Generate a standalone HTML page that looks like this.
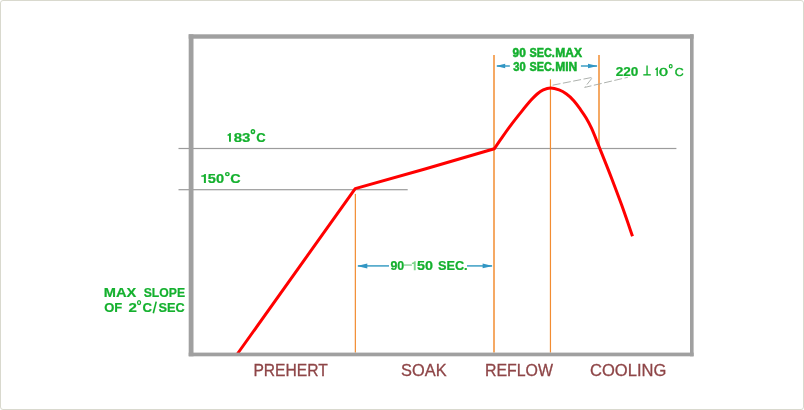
<!DOCTYPE html>
<html>
<head>
<meta charset="utf-8">
<title>Reflow Profile</title>
<style>
html,body{margin:0;padding:0;background:#fff;}
body{width:804px;height:410px;overflow:hidden;position:relative;font-family:"Liberation Sans",sans-serif;}
#card{position:absolute;left:0;top:0;width:802px;height:408px;border:1px solid #d9d9ce;border-radius:3px;background:#fff;}
#plot{position:absolute;left:0;top:0;width:804px;height:410px;will-change:transform;}
text{font-family:"Liberation Sans",sans-serif;}
.g{fill:#14b02e;stroke:#14b02e;stroke-width:0.4;}
.gb{fill:#14b02e;font-weight:bold;stroke:#14b02e;stroke-width:0.2;}
.gh{fill:#14b02e;font-weight:bold;stroke:#14b02e;stroke-width:0.5;}
.b{fill:#8e4547;stroke:#8e4547;stroke-width:0.3;}
</style>
</head>
<body>
<div id="card"></div>
<svg id="plot" width="804" height="410" viewBox="0 0 804 410" role="img">
  <desc>Reflow temperature profile: 183°C, 150°C, MAX. SLOPE OF 2°C/SEC, 90 SEC.MAX, 30 SEC.MIN, 220 ± 10°C, 90~150 SEC., PREHERT, SOAK, REFLOW, COOLING</desc>
  <!-- horizontal reference lines -->
  <rect x="178.5" y="147.9" width="497.9" height="1.2" fill="#9c9c9c"/>
  <rect x="178.5" y="189.1" width="229.2" height="1.2" fill="#9c9c9c"/>

  <!-- orange verticals -->
  <rect x="354.75" y="193.9" width="1.2" height="158.7" fill="#f28c32"/>
  <rect x="493.2" y="55" width="1.6" height="297.6" fill="#f3953f"/>
  <rect x="549.85" y="79.3" width="1.2" height="273.3" fill="#f28c32"/>
  <rect x="598.2" y="55" width="1.6" height="90" fill="#f3953f"/>

  <!-- leader zigzag -->
  <polyline points="552.6,85.2 592.6,77.3 584.7,87.4 627.8,77.3" fill="none" stroke="#a4a8a4" stroke-width="0.9" stroke-dasharray="8 2.5"/>

  <!-- blue arrows -->
  <g stroke="#48a4c8" stroke-width="1.6" fill="#3196c4">
    <line x1="358" y1="265.9" x2="389" y2="265.9"/>
    <polygon points="356.9,265.9 367.3,263.4 367.3,268.4" stroke="none"/>
    <line x1="467" y1="265.9" x2="492" y2="265.9"/>
    <polygon points="492.8,265.9 482.6,263.5 482.6,268.3" stroke="none"/>
    <line x1="497" y1="66" x2="509.9" y2="66"/>
    <polygon points="495.8,66 505.2,63.7 505.2,68.3" stroke="none"/>
    <line x1="580.9" y1="66" x2="597" y2="66"/>
    <polygon points="597.7,66 588,63.8 588,68.2" stroke="none"/>
  </g>

  <!-- red profile -->
  <path d="M237.3,354 L355.2,188.6 L425,169 L494.3,148.8 C495.4,147.2 497.9,143.4 500.7,139.4 C503.5,135.4 507.6,129.4 511.1,124.8 C514.6,120.2 518.2,115.7 521.5,111.6 C524.8,107.5 528.5,103.0 531.1,100.1 C533.7,97.2 535.2,95.7 537.2,94.0 C539.2,92.3 541.1,90.9 543.3,89.9 C545.5,88.9 547.9,88.0 550.5,88.0 C553.1,88.0 556.4,88.9 559.1,89.9 C561.8,90.9 564.0,92.2 566.5,94.0 C569.0,95.8 571.6,98.2 573.8,100.7 C576.0,103.2 577.9,105.9 579.9,108.7 C581.9,111.5 584.1,114.5 586.0,117.8 C587.9,121.0 589.2,123.2 591.5,128.2 C593.8,133.2 596.3,139.8 599.6,148.0 C602.9,156.2 607.8,168.3 611.4,177.7 C615.0,187.1 617.9,194.7 621.4,204.3 C624.9,213.9 630.4,230.1 632.5,236.2" fill="none" stroke="#ff0000" stroke-width="3" stroke-linejoin="round" stroke-linecap="butt"/>

  <!-- frame -->
  <g fill="#a0a0a0">
    <rect x="188.7" y="34.3" width="504.9" height="4.4"/>
    <rect x="188.7" y="352.6" width="504.9" height="3.7"/>
    <rect x="188.7" y="34.3" width="4.8" height="322"/>
    <rect x="690" y="34.3" width="3.6" height="322"/>
  </g>

  <!-- plus/minus mark -->
  <g stroke="#14b02e" stroke-width="1.4" fill="none">
    <line x1="647.05" y1="65.4" x2="647.05" y2="75"/>
    <line x1="643.3" y1="74.85" x2="650.8" y2="74.85"/>
  </g>
  <!-- degree rings and slash -->
  <g stroke="#14b02e" fill="none">
    <ellipse cx="252.95" cy="131.6" rx="1.6" ry="1.9" stroke-width="1.5"/>
    <ellipse cx="227.35" cy="174.1" rx="1.75" ry="1.5" stroke-width="1.4"/>
    <ellipse cx="139.05" cy="302.6" rx="1.5" ry="2.0" stroke-width="1.3"/>
    <ellipse cx="670.7" cy="66.25" rx="1.4" ry="1.7" stroke-width="1.2"/>
    <line x1="153.3" y1="313.3" x2="156.2" y2="301.6" stroke-width="1.6"/>
  </g>
  <!-- dash in 90-150 -->
  <rect x="403.6" y="264.3" width="8.3" height="1.5" fill="#93d8a2"/>

  <!-- labels -->
  <polygon points="229.76,133.00 230.90,133.00 230.90,141.80 229.00,141.80 229.00,135.73 227.50,135.73 227.50,134.41 228.34,134.14" fill="#14b02e" opacity="1"/>
  <polygon points="204.70,174.10 205.90,174.10 205.90,183.00 203.90,183.00 203.90,176.86 201.20,176.86 201.20,175.52 203.20,175.26" fill="#14b02e" opacity="1"/>
  <polygon points="657.06,67.30 657.90,67.30 657.90,76.00 656.50,76.00 656.50,70.00 655.30,70.00 655.30,68.69 656.01,68.43" fill="#14b02e" opacity="1"/>
  <polygon points="414.56,261.30 415.70,261.30 415.70,270.20 413.80,270.20 413.80,264.06 411.90,264.06 411.90,262.72 413.13,262.46" fill="#14b02e" opacity="0.55"/>
  <text id="t183" class="gb" font-size="12" x="233.78" y="141.7" textLength="16.74" lengthAdjust="spacingAndGlyphs">83</text>
  <text id="t183c" class="gb" font-size="12" x="256.34" y="141.7" textLength="9.44" lengthAdjust="spacingAndGlyphs">C</text>
  <text id="t150" class="gb" font-size="12" x="207.86" y="182.9" textLength="16.31" lengthAdjust="spacingAndGlyphs">50</text>
  <text id="t150c" class="gb" font-size="12" x="230.19" y="182.9" textLength="10.39" lengthAdjust="spacingAndGlyphs">C</text>
  <text id="max" class="gb" font-size="12.3" x="103.79" y="297.4" textLength="32.52" lengthAdjust="spacingAndGlyphs">MAX</text>
  <text id="slope" class="gb" font-size="12.3" x="143.71" y="297.4" textLength="41.35" lengthAdjust="spacingAndGlyphs">SLOPE</text>
  <text id="of" class="gb" font-size="12.3" x="104.24" y="311.7" textLength="18.01" lengthAdjust="spacingAndGlyphs">OF</text>
  <text id="two" class="gb" font-size="12.3" x="128.57" y="311.7" textLength="8.38" lengthAdjust="spacingAndGlyphs">2</text>
  <text id="twoc" class="gb" font-size="12.3" x="142.61" y="311.7" textLength="9.53" lengthAdjust="spacingAndGlyphs">C</text>
  <text id="sec3" class="gb" font-size="12.3" x="158.44" y="311.7" textLength="26.22" lengthAdjust="spacingAndGlyphs">SEC</text>
  <text id="n90" class="gh" font-size="12" x="512.55" y="56.7" textLength="13.19" lengthAdjust="spacingAndGlyphs">90</text>
  <text id="sec1" class="gh" font-size="12" x="529.55" y="56.7" textLength="25.25" lengthAdjust="spacingAndGlyphs">SEC.</text>
  <text id="max2" class="gh" font-size="12" x="555.29" y="56.7" textLength="26.75" lengthAdjust="spacingAndGlyphs">MAX</text>
  <text id="n30" class="gh" font-size="12" x="513.26" y="71.0" textLength="12.42" lengthAdjust="spacingAndGlyphs">30</text>
  <text id="sec2" class="gh" font-size="12" x="529.55" y="71.0" textLength="25.25" lengthAdjust="spacingAndGlyphs">SEC.</text>
  <text id="min" class="gh" font-size="12" x="555.28" y="71.0" textLength="22.03" lengthAdjust="spacingAndGlyphs">MIN</text>
  <text id="n220" class="gb" font-size="12" x="615.67" y="75.9" textLength="22.65" lengthAdjust="spacingAndGlyphs">220</text>
  <text id="n10" class="g" font-size="11.8" x="659.04" y="75.9" textLength="8.96" lengthAdjust="spacingAndGlyphs">0</text>
  <text id="n10c" class="g" font-size="11.8" x="674.66" y="75.9" textLength="8.92" lengthAdjust="spacingAndGlyphs">C</text>
  <text id="n90b" class="gb" font-size="12" x="390.43" y="269.9" textLength="13.81" lengthAdjust="spacingAndGlyphs">90</text>
  <text id="n150b" class="gb" font-size="12" x="417.11" y="269.9" textLength="15.97" lengthAdjust="spacingAndGlyphs">50</text>
  <text id="secb" class="gb" font-size="12" x="437.92" y="269.9" textLength="29.73" lengthAdjust="spacingAndGlyphs">SEC.</text>
  <text id="prehert" class="b" font-size="16.5" x="253.42" y="375.9" textLength="74.29" lengthAdjust="spacingAndGlyphs">PREHERT</text>
  <text id="soak" class="b" font-size="16.5" x="401.11" y="375.9" textLength="45.44" lengthAdjust="spacingAndGlyphs">SOAK</text>
  <text id="reflow" class="b" font-size="16.5" x="484.95" y="375.9" textLength="68.06" lengthAdjust="spacingAndGlyphs">REFLOW</text>
  <text id="cooling" class="b" font-size="16.5" x="590.05" y="375.9" textLength="76.27" lengthAdjust="spacingAndGlyphs">COOLING</text>
</svg>
</body>
</html>
